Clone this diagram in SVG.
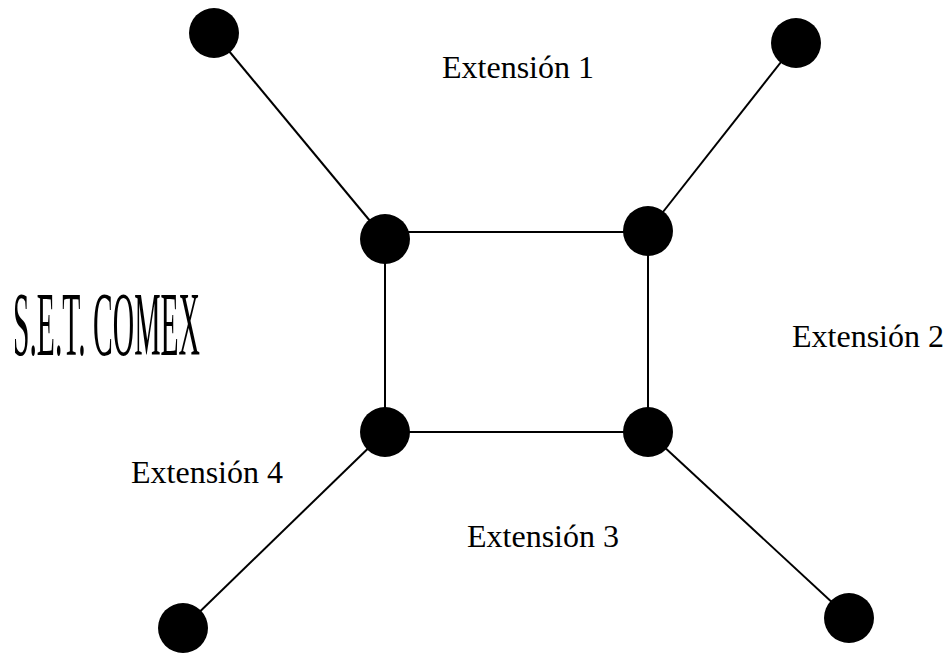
<svg xmlns="http://www.w3.org/2000/svg" width="952" height="653" viewBox="0 0 952 653">
<style>
.node{fill:#000}
.edge{stroke:#000;stroke-width:2;fill:none}
.lbl{font-family:"Liberation Serif","Times New Roman",serif;font-size:32px;fill:#000}
</style>
<rect width="952" height="653" fill="#fff"/>
<g id="connectors">
<line class="edge" x1="214" y1="33" x2="385" y2="239"/>
<line class="edge" x1="796" y1="43" x2="648" y2="231"/>
<line class="edge" x1="385" y1="432" x2="183" y2="628"/>
<line class="edge" x1="648" y1="432" x2="849" y2="618"/>
<line class="edge" x1="385" y1="232" x2="648" y2="232"/>
<line class="edge" x1="385" y1="239" x2="385" y2="432"/>
<line class="edge" x1="648" y1="231" x2="648" y2="432"/>
<line class="edge" x1="385" y1="432" x2="648" y2="432"/>
</g>
<g id="n-outer-tl"><circle class="node" cx="214" cy="33" r="25"/></g>
<g id="n-outer-tr"><circle class="node" cx="796" cy="43" r="25"/></g>
<g id="n-sq-tl"><circle class="node" cx="385" cy="239" r="25"/></g>
<g id="n-sq-tr"><circle class="node" cx="648" cy="231" r="25"/></g>
<g id="n-sq-bl"><circle class="node" cx="385" cy="432" r="25"/></g>
<g id="n-sq-br"><circle class="node" cx="648" cy="432" r="25"/></g>
<g id="n-outer-bl"><circle class="node" cx="183" cy="628" r="25"/></g>
<g id="n-outer-br"><circle class="node" cx="849" cy="618" r="25"/></g>
<g id="labels">
<text class="lbl" x="442" y="78">Extensión 1</text>
<text class="lbl" x="792" y="347">Extensión 2</text>
<text class="lbl" x="467" y="547">Extensión 3</text>
<text class="lbl" x="131" y="483">Extensión 4</text>
<text x="13" y="355" font-family="'Liberation Serif','Times New Roman',serif" font-size="90" textLength="187" lengthAdjust="spacingAndGlyphs">S.E.T. COMEX</text>
</g>
</svg>
